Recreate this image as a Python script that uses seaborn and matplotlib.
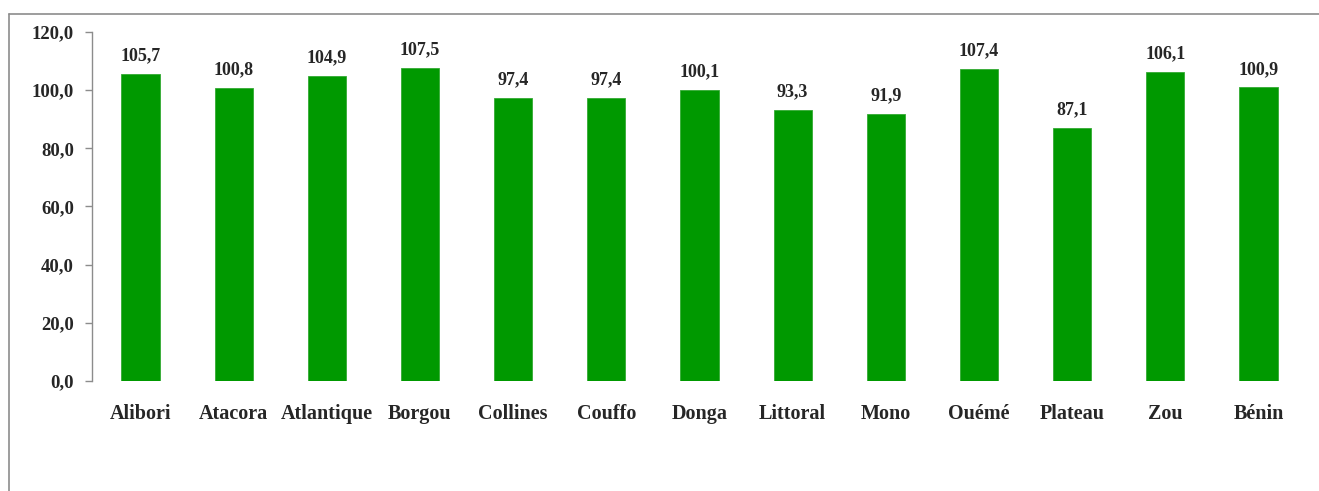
import pandas as pd
import seaborn as sns
import matplotlib
matplotlib.use("Agg")
import matplotlib.pyplot as plt
from matplotlib.lines import Line2D

departements = ["Alibori", "Atacora", "Atlantique", "Borgou", "Collines", "Couffo",
                "Donga", "Littoral", "Mono", "Ouémé", "Plateau", "Zou", "Bénin"]
valeurs = [105.7, 100.8, 104.9, 107.5, 97.4, 97.4, 100.1, 93.3, 91.9, 107.4, 87.1, 106.1, 100.9]
yticks = [0, 20, 40, 60, 80, 100, 120]

df = pd.DataFrame({"dep": departements, "val": valeurs})

sns.set_style("white")
plt.rcParams["font.family"] = ["Liberation Serif", "DejaVu Serif"]

fig = plt.figure(figsize=(13.19, 4.91), dpi=100)
ax = fig.add_axes([0.0698, 0.224, 0.921, 0.711])

sns.barplot(data=df, x="dep", y="val", color="#009900", width=0.41,
            saturation=1, ax=ax, edgecolor="#33aa33", linewidth=0.6)

# value labels above bars
for i, v in enumerate(valeurs):
    ax.annotate(f"{v:.1f}".replace(".", ","), (i, v), xytext=(0, 7),
                textcoords="offset points", ha="center", va="bottom",
                fontsize=13, fontweight="bold")

ax.set_ylim(0, 120)
ax.set_xlim(-0.52, len(departements) - 0.48)
ax.set_yticks(yticks)
ax.set_yticklabels([f"{t:.1f}".replace(".", ",") for t in yticks],
                   fontsize=13.5, fontweight="bold")
ax.set_xticks(range(len(departements)))
ax.set_xticklabels(departements, fontsize=14.5, fontweight="bold")
ax.set_xlabel("")
ax.set_ylabel("")

for s in ["top", "right", "bottom"]:
    ax.spines[s].set_visible(False)
ax.spines["left"].set_color("#8c8c8c")
ax.spines["left"].set_linewidth(1)
ax.tick_params(axis="y", left=True, length=5, width=1, color="#8c8c8c", pad=8)
ax.tick_params(axis="x", bottom=False, pad=13)

# chart frame (top and left edges)
fig.add_artist(Line2D([0.0068, 1.0], [0.9715, 0.9715], color="#8c8c8c", lw=1.2,
                      transform=fig.transFigure))
fig.add_artist(Line2D([0.0068, 0.0068], [0.0, 0.9715], color="#8c8c8c", lw=1.2,
                      transform=fig.transFigure))

fig.savefig("out.png", dpi=100)
